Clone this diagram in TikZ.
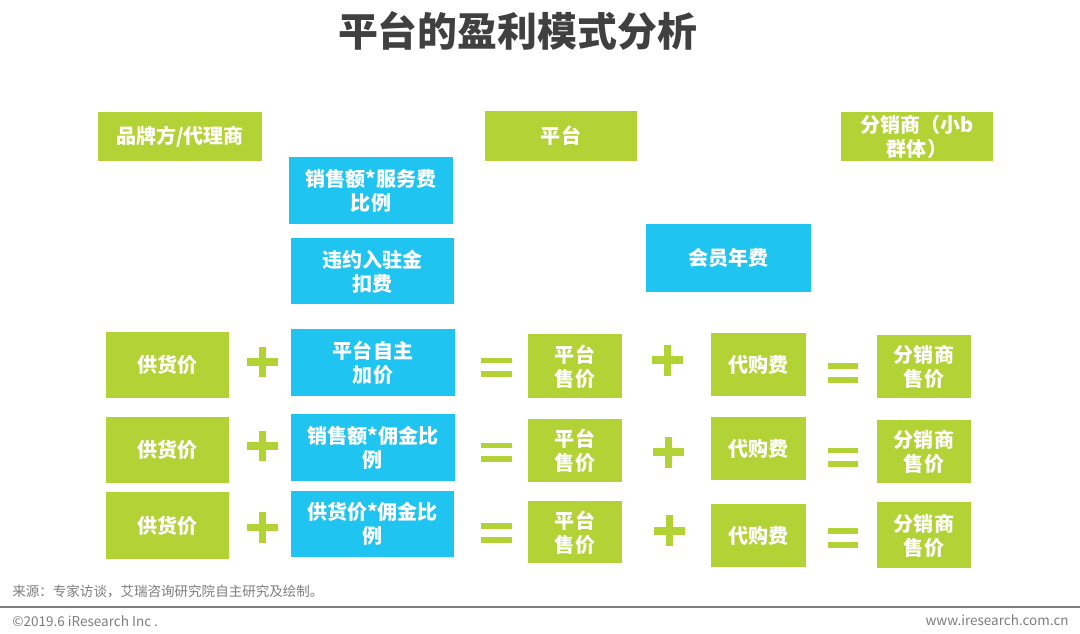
\documentclass[tikz,border=0pt]{standalone}
\usepackage{fontspec}
\newfontfamily\cjk{Noto Sans CJK SC}

\definecolor{brandgreen}{RGB}{178,210,53}
\definecolor{feeblue}{RGB}{31,196,240}
\definecolor{titlegray}{RGB}{64,64,64}
\definecolor{notegray}{RGB}{125,125,125}

\tikzset{
  greenbox/.style={fill=brandgreen},
  bluebox/.style={fill=feeblue},
  boxtext/.style={text=white, align=center, inner sep=0pt,
    font=\cjk\bfseries\fontsize{11.4}{13.6}\selectfont},
  plussign/.style={brandgreen, line width=4.4pt},
  eqsign/.style={brandgreen, line width=3.4pt},
  notetext/.style={text=notegray, inner sep=0pt,
    font=\cjk\fontsize{7.7}{9}\selectfont}
}

\begin{document}
\begin{tikzpicture}[x=0.02cm, y=-0.02cm]
        \useasboundingbox (0, 0) rectangle (1080, 634);

        % Title
        \node[text=titlegray, font=\cjk\bfseries\fontsize{22.7}{26}\selectfont] (title) at (517.5, 31) {平台的盈利模式分析};

        % Draw the three parties
        \fill[greenbox] (98, 112) rectangle (262, 161);
        \node[boxtext] (brand) at (180, 136.5) {品牌方/代理商};
        \fill[greenbox] (485, 111) rectangle (637, 161);
        \node[boxtext] (platform) at (561, 136) {平台};
        \fill[greenbox] (841, 112) rectangle (993, 161);
        \node[boxtext] (reseller) at (917, 137) {分销商（小b\\群体）};

        % Draw the other fees
        \fill[bluebox] (289, 157) rectangle (453, 224);
        \node[boxtext] (svcfee) at (371, 191) {销售额*服务费\\比例};
        \fill[bluebox] (291, 238) rectangle (454, 304);
        \node[boxtext] (penalty) at (372.5, 271.5) {违约入驻金\\扣费};
        \fill[bluebox] (646, 224) rectangle (811, 292);
        \node[boxtext] (member) at (728.5, 258) {会员年费};

        % Draw the first row
        \fill[greenbox] (106, 332) rectangle (229, 398);
        \node[boxtext] (supplyA) at (167.5, 365) {供货价};
        \draw[plussign] (247, 362) -- (278, 362) (262.5, 347) -- (262.5, 377);
        \fill[bluebox] (291, 329) rectangle (455, 396);
        \node[boxtext] (markupA) at (373, 363) {平台自主\\加价};
        \draw[eqsign] (481, 360.5) -- (512, 360.5) (481, 374) -- (512, 374);
        \fill[greenbox] (528, 334) rectangle (622, 398);
        \node[boxtext] (priceA) at (575, 366.5) {平台\\售价};
        \draw[plussign] (652, 360) -- (683, 360) (667.5, 345) -- (667.5, 376);
        \fill[greenbox] (711, 333) rectangle (806, 396);
        \node[boxtext] (agentA) at (758.5, 364.5) {代购费};
        \draw[eqsign] (828, 366) -- (858, 366) (828, 380) -- (858, 380);
        \fill[greenbox] (877, 335) rectangle (971, 398);
        \node[boxtext] (resaleA) at (924, 367) {分销商\\售价};

        % Draw the second row
        \fill[greenbox] (106, 417) rectangle (229, 483);
        \node[boxtext] (supplyB) at (167.5, 450) {供货价};
        \draw[plussign] (247, 446) -- (278, 446) (262.5, 431) -- (262.5, 461);
        \fill[bluebox] (291, 414) rectangle (455, 481);
        \node[boxtext] (markupB) at (373, 448) {销售额*佣金比\\例};
        \draw[eqsign] (481, 445.5) -- (512, 445.5) (481, 459) -- (512, 459);
        \fill[greenbox] (528, 419) rectangle (622, 482);
        \node[boxtext] (priceB) at (575, 451) {平台\\售价};
        \draw[plussign] (653, 452) -- (684, 452) (668.5, 437) -- (668.5, 468);
        \fill[greenbox] (711, 417) rectangle (806, 480);
        \node[boxtext] (agentB) at (758.5, 448.5) {代购费};
        \draw[eqsign] (828, 450.5) -- (858, 450.5) (828, 464) -- (858, 464);
        \fill[greenbox] (877, 420) rectangle (971, 483);
        \node[boxtext] (resaleB) at (924, 452) {分销商\\售价};

        % Draw the third row
        \fill[greenbox] (106, 492) rectangle (229, 559);
        \node[boxtext] (supplyC) at (167.5, 525.5) {供货价};
        \draw[plussign] (247, 527.5) -- (278, 527.5) (262.5, 512) -- (262.5, 543);
        \fill[bluebox] (291, 491) rectangle (454, 557);
        \node[boxtext] (markupC) at (372.5, 524) {供货价*佣金比\\例};
        \draw[eqsign] (481, 526) -- (512, 526) (481, 540) -- (512, 540);
        \fill[greenbox] (528, 501) rectangle (622, 563);
        \node[boxtext] (priceC) at (575, 532.5) {平台\\售价};
        \draw[plussign] (654, 531) -- (685, 531) (669.5, 515.5) -- (669.5, 546.5);
        \fill[greenbox] (711, 504) rectangle (806, 567);
        \node[boxtext] (agentC) at (758.5, 535.5) {代购费};
        \draw[eqsign] (828, 531) -- (858, 531) (828, 545) -- (858, 545);
        \fill[greenbox] (877, 502) rectangle (971, 568);
        \node[boxtext] (resaleC) at (924, 535.5) {分销商\\售价};

        % Footer
        \node[notetext, anchor=west] (source) at (12, 591) {来源：专家访谈，艾瑞咨询研究院自主研究及绘制。};
        \draw[notegray, line width=1.1pt] (0, 607) -- (1080, 607);
        \node[notetext, anchor=west] (copyright) at (12, 621) {©2019.6 iResearch Inc .};
        \node[notetext, anchor=east] (website) at (1069, 620) {www.iresearch.com.cn};
\end{tikzpicture}
\end{document}
